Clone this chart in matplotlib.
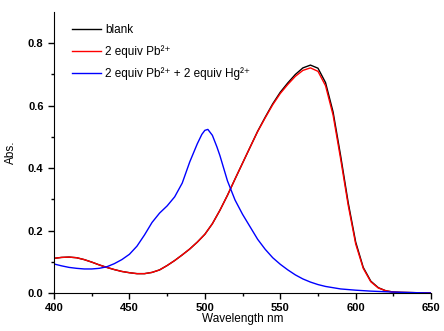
import numpy as np
import matplotlib.pyplot as plt

plt.rcParams['font.family'] = ['Liberation Sans', 'DejaVu Sans']

# absorbance spectra
wl = [400, 405, 410, 415, 420, 425, 430, 435, 440, 445, 450, 455, 460, 465,
      470, 475, 480, 485, 490, 495, 500, 505, 510, 515, 520, 525, 530, 535,
      540, 545, 550, 555, 560, 565, 570, 575, 580, 585, 590, 595, 600, 605,
      610, 615, 620, 625, 630, 640, 650]
blank = [0.111, 0.114, 0.115, 0.113, 0.107, 0.099, 0.090, 0.082, 0.075, 0.069,
         0.065, 0.062, 0.062, 0.066, 0.074, 0.088, 0.104, 0.122, 0.141, 0.163,
         0.188, 0.222, 0.265, 0.313, 0.365, 0.416, 0.467, 0.518, 0.563, 0.606,
         0.643, 0.673, 0.700, 0.721, 0.730, 0.720, 0.674, 0.580, 0.440, 0.290,
         0.163, 0.082, 0.038, 0.017, 0.007, 0.003, 0.002, 0.001, 0.000]
pb = [0.111, 0.114, 0.115, 0.113, 0.107, 0.099, 0.090, 0.082, 0.075, 0.069,
      0.065, 0.062, 0.062, 0.066, 0.074, 0.088, 0.104, 0.122, 0.141, 0.163,
      0.188, 0.222, 0.265, 0.313, 0.365, 0.416, 0.467, 0.517, 0.561, 0.603,
      0.639, 0.668, 0.694, 0.713, 0.721, 0.710, 0.664, 0.570, 0.430, 0.282,
      0.157, 0.079, 0.036, 0.016, 0.007, 0.003, 0.002, 0.001, 0.000]

wl_hg = [400, 405, 410, 415, 420, 425, 430, 435, 440, 445, 450, 455, 460, 465,
         470, 475, 480, 485, 490, 495, 498, 500, 502, 505, 508, 510, 515, 520,
         525, 530, 535, 540, 545, 550, 555, 560, 565, 570, 575, 580, 590, 600,
         610, 620, 630, 650]
pb_hg = [0.093, 0.087, 0.082, 0.079, 0.077, 0.077, 0.079, 0.084, 0.094, 0.107,
         0.124, 0.150, 0.186, 0.226, 0.256, 0.279, 0.308, 0.352, 0.420, 0.478,
         0.508, 0.521, 0.524, 0.505, 0.468, 0.440, 0.359, 0.298, 0.252, 0.212,
         0.172, 0.140, 0.113, 0.092, 0.074, 0.058, 0.045, 0.035, 0.027, 0.021,
         0.013, 0.009, 0.006, 0.004, 0.002, 0.000]

fig = plt.figure(figsize=(4.44, 3.31), dpi=100)
ax = fig.add_axes([0.1216, 0.1148, 0.8494, 0.8489])

ax.plot(wl, blank, color='black', lw=1.0, label='blank')
ax.plot(wl, pb, color='red', lw=1.0, label='2 equiv Pb²⁺')
ax.plot(wl_hg, pb_hg, color='blue', lw=1.0,
        label='2 equiv Pb²⁺ + 2 equiv Hg²⁺')

ax.set_xlim(400, 650)
ax.set_ylim(0, 0.9)
ax.set_xticks([400, 450, 500, 550, 600, 650])
ax.set_xticks(np.arange(425, 650, 50), minor=True)
ax.set_yticks([0.0, 0.2, 0.4, 0.6, 0.8])
ax.set_yticks([0.1, 0.3, 0.5, 0.7], minor=True)
ax.spines['top'].set_visible(False)
ax.spines['right'].set_visible(False)
ax.tick_params(direction='out', length=4, width=1, labelsize=8)
ax.tick_params(which='minor', direction='out', length=2.5, width=1)
for lab in ax.get_xticklabels() + ax.get_yticklabels():
    lab.set_fontweight('bold')

ax.set_xlabel('Wavelength nm', fontsize=8.5, labelpad=0)
ax.set_ylabel('Abs.', fontsize=8.5, labelpad=8)

ax.legend(loc='upper left', frameon=False, fontsize=8.5, handlelength=2.5,
          handletextpad=0.35, labelspacing=0.75, borderaxespad=0.3,
          bbox_to_anchor=(0.025, 0.985))

fig.savefig('out.png', dpi=100)
